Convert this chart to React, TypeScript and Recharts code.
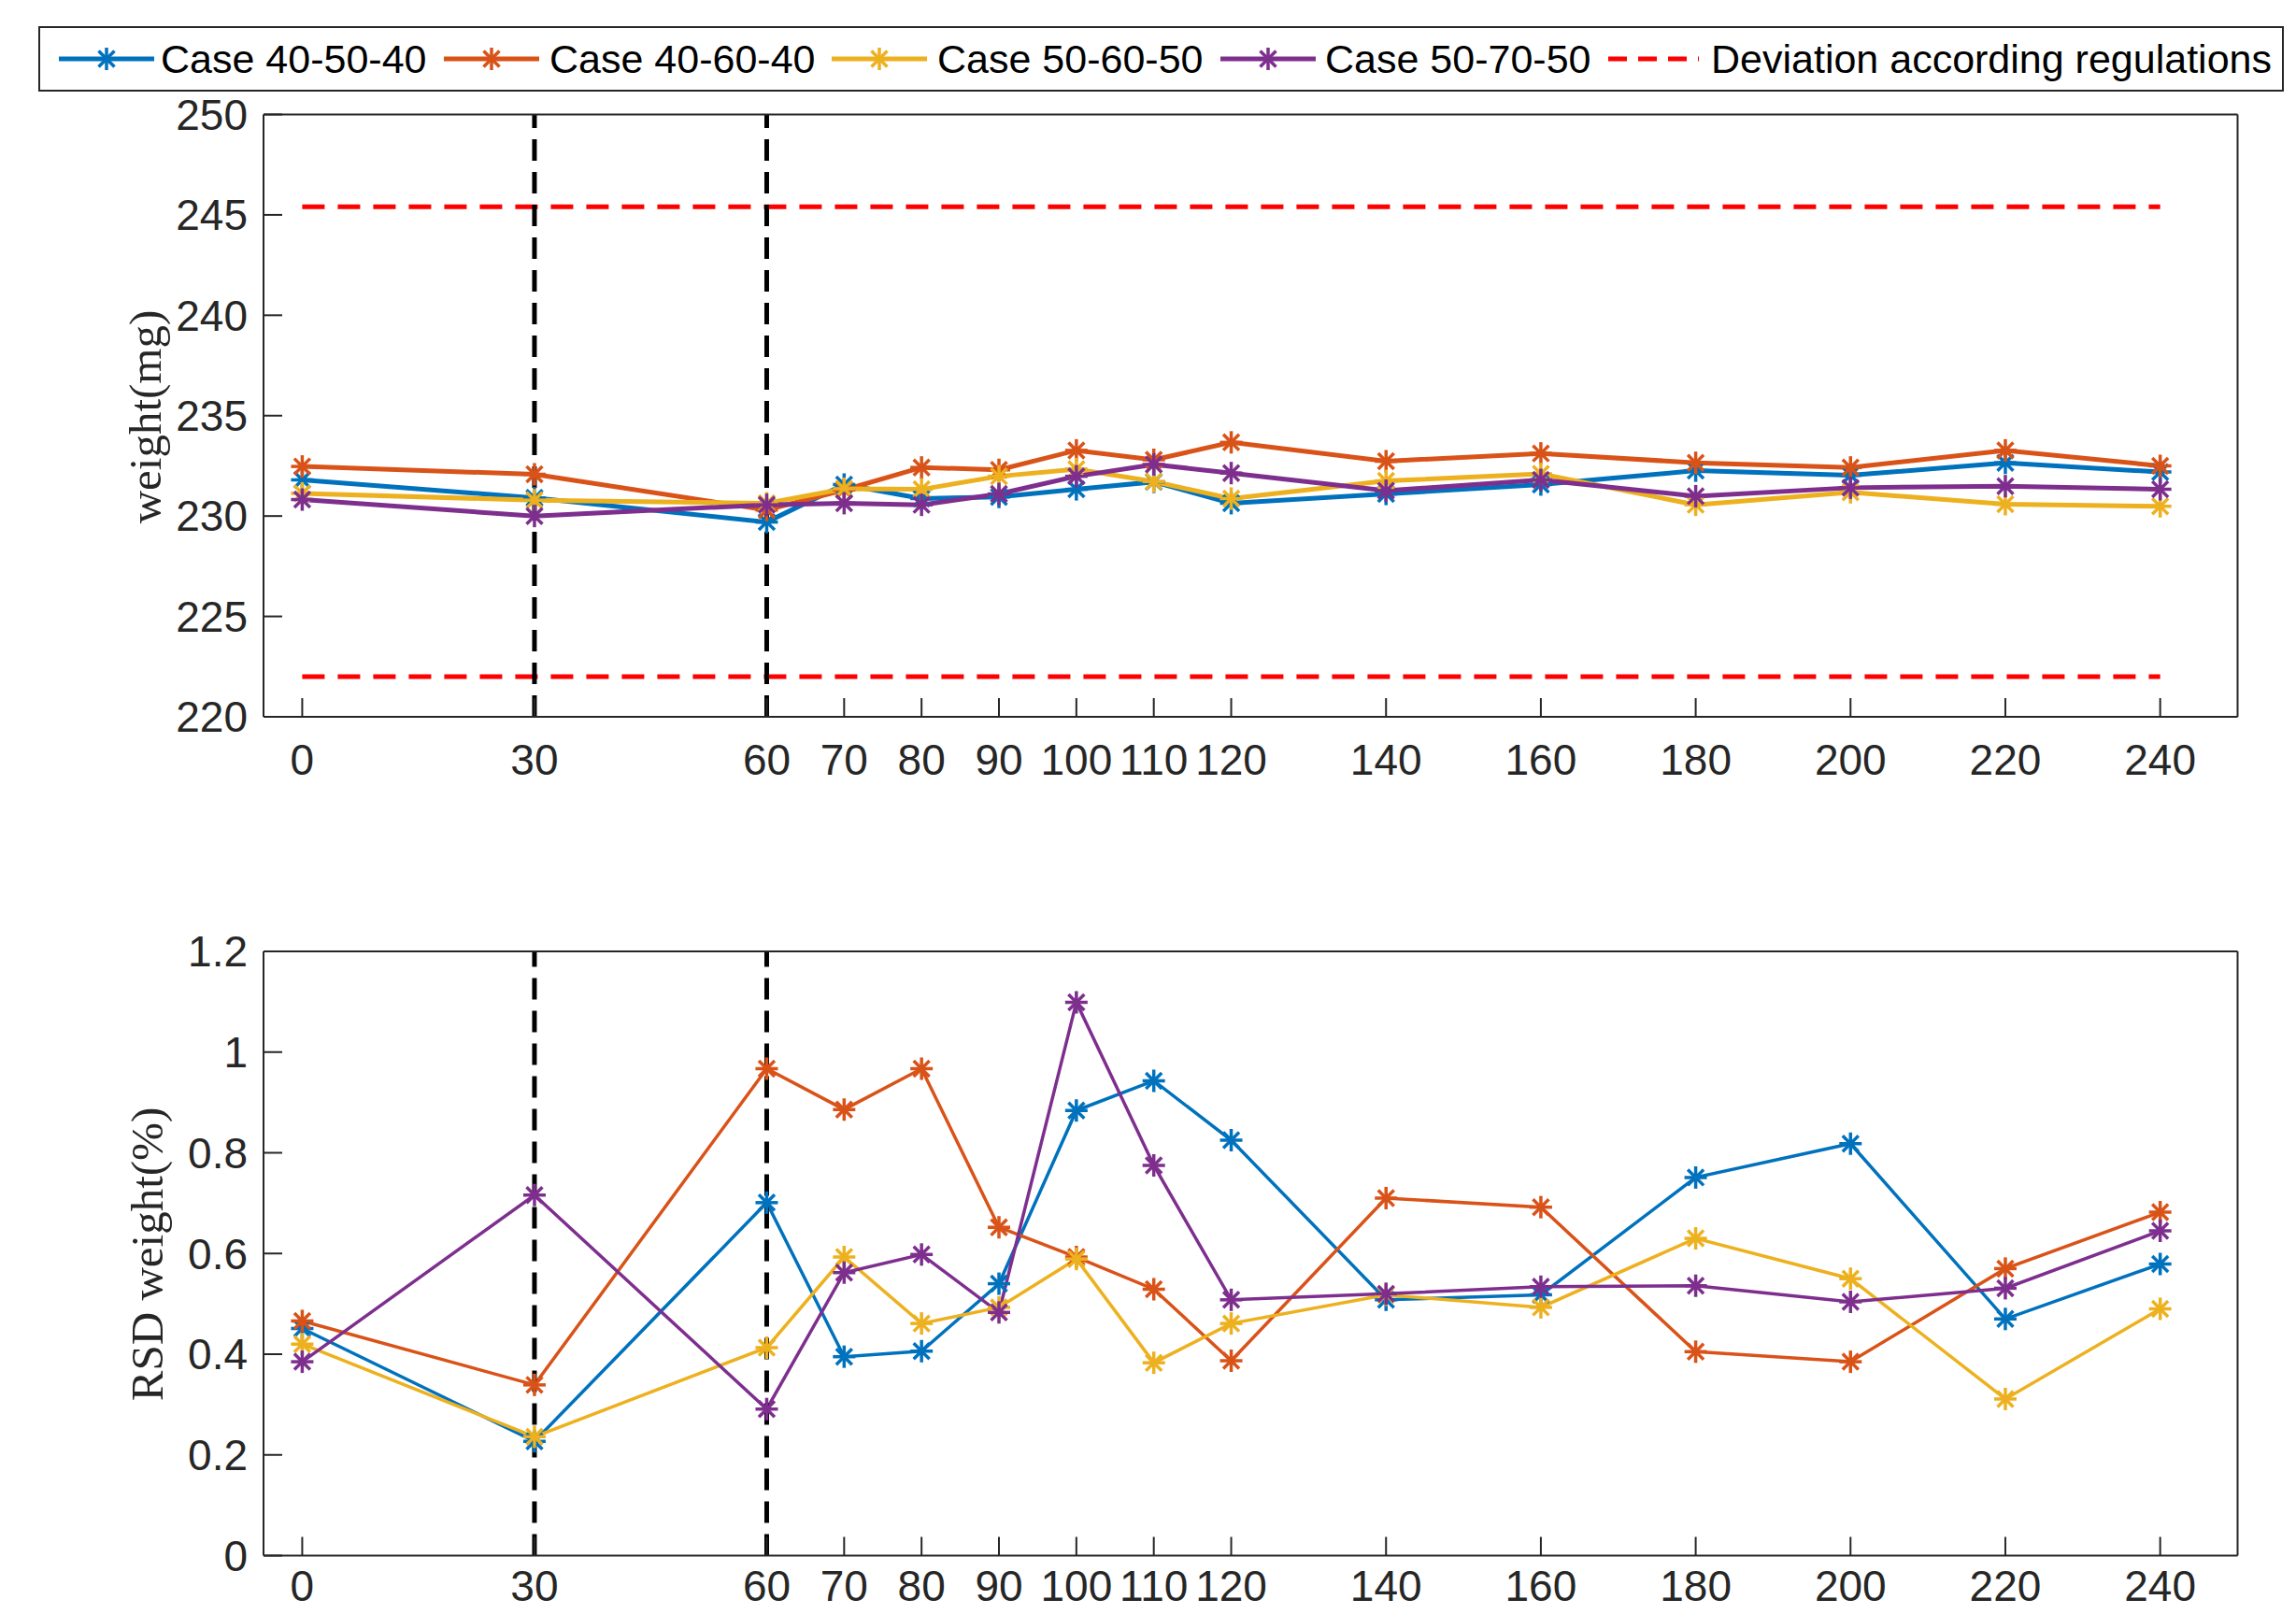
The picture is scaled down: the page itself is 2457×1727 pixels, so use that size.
import { Line, LineChart, ReferenceLine, XAxis, YAxis } from 'recharts'

// sampling times (min)
const times = [0, 30, 60, 70, 80, 90, 100, 110, 120, 140, 160, 180, 200, 220, 240]

const caseNames = ['Case 40-50-40', 'Case 40-60-40', 'Case 50-60-50', 'Case 50-70-50']
const caseColors = ['#0072BD', '#D95319', '#EDB120', '#7E2F8E']

// mean tablet weight (mg)
const weightCase1 = [231.8, 230.9, 229.7, 231.57, 230.87, 230.95, 231.33, 231.7, 230.64, 231.1, 231.57, 232.26, 232.03, 232.65, 232.19]
const weightCase2 = [232.47, 232.08, 230.3, 231.3, 232.42, 232.3, 233.27, 232.8, 233.67, 232.73, 233.12, 232.65, 232.42, 233.27, 232.5]
const weightCase3 = [231.13, 230.79, 230.64, 231.36, 231.33, 231.98, 232.34, 231.72, 230.87, 231.75, 232.1, 230.56, 231.18, 230.59, 230.48]
const weightCase4 = [230.82, 230.0, 230.56, 230.64, 230.56, 231.1, 231.98, 232.57, 232.14, 231.26, 231.8, 230.99, 231.41, 231.49, 231.33]

// RSD of weight (%)
const rsdCase1 = [0.451, 0.227, 0.701, 0.395, 0.406, 0.54, 0.884, 0.943, 0.825, 0.508, 0.518, 0.751, 0.818, 0.47, 0.579]
const rsdCase2 = [0.466, 0.339, 0.967, 0.886, 0.967, 0.652, 0.593, 0.529, 0.387, 0.71, 0.692, 0.405, 0.385, 0.57, 0.682]
const rsdCase3 = [0.42, 0.236, 0.413, 0.593, 0.461, 0.493, 0.589, 0.383, 0.461, 0.518, 0.493, 0.63, 0.55, 0.311, 0.49]
const rsdCase4 = [0.385, 0.716, 0.291, 0.562, 0.598, 0.483, 1.099, 0.775, 0.508, 0.52, 0.534, 0.536, 0.504, 0.531, 0.645]

const weightTicks = [220, 225, 230, 235, 240, 245, 250]
const rsdTicks = [0, 0.2, 0.4, 0.6, 0.8, 1, 1.2]
const upperLimit = 245.4
const lowerLimit = 222.0
const phaseMarks = [30, 60]

const buildRows = (series: number[][]) =>
  times.map((t, i) => ({ t, c0: series[0][i], c1: series[1][i], c2: series[2][i], c3: series[3][i] }))

const weightRows = buildRows([weightCase1, weightCase2, weightCase3, weightCase4])
const rsdRows = buildRows([rsdCase1, rsdCase2, rsdCase3, rsdCase4])

const W = 2457
const AXIS = '#262626'
const SANS = '"Liberation Sans", Arial, Helvetica, sans-serif'
const SERIF = '"Liberation Serif", "DejaVu Serif", serif'
const PLOT_LEFT = 282
const PLOT_RIGHT = 2394.5

function Star({ cx, cy, color, r = 12, w = 3.5 }: { cx?: number; cy?: number; color: string; r?: number; w?: number }) {
  if (cx == null || cy == null) return null
  const d = r * 0.7071
  return (
    <g stroke={color} strokeWidth={w}>
      <line x1={cx - r} y1={cy} x2={cx + r} y2={cy} />
      <line x1={cx} y1={cy - r} x2={cx} y2={cy + r} />
      <line x1={cx - d} y1={cy - d} x2={cx + d} y2={cy + d} />
      <line x1={cx - d} y1={cy + d} x2={cx + d} y2={cy - d} />
    </g>
  )
}

type PanelProps = {
  rows: Record<string, number>[]
  domain: [number, number]
  ticks: number[]
  plotTop: number
  plotBottom: number
  lineWidth: number
  labelGap: number
  limits?: number[]
}

function Panel({ rows, domain, ticks, plotTop, plotBottom, lineWidth, labelGap, limits = [] }: PanelProps) {
  const axisLine = { stroke: AXIS, strokeWidth: 2 }
  const tickStyle = { fill: AXIS, fontSize: 46, fontFamily: SANS }
  return (
    <LineChart
      width={W}
      height={plotBottom + 90}
      data={rows}
      margin={{ top: plotTop - 1, right: W - PLOT_RIGHT - 1, bottom: 0, left: 0 }}
    >
      <XAxis
        dataKey="t"
        type="number"
        domain={[-5, 250]}
        allowDataOverflow
        ticks={times}
        interval={0}
        height={90}
        tickSize={-20}
        tickMargin={labelGap}
        axisLine={axisLine}
        tickLine={axisLine}
        tick={tickStyle}
      />
      <XAxis
        xAxisId="top"
        orientation="top"
        type="number"
        domain={[-5, 250]}
        allowDataOverflow
        ticks={times}
        interval={0}
        height={1}
        tickSize={-20}
        axisLine={axisLine}
        tickLine={axisLine}
        tick={false}
      />
      <YAxis
        type="number"
        domain={domain}
        allowDataOverflow
        ticks={ticks}
        interval={0}
        width={PLOT_LEFT}
        tickSize={-20}
        tickMargin={37}
        axisLine={axisLine}
        tickLine={axisLine}
        tick={tickStyle}
      />
      <YAxis
        yAxisId="right"
        orientation="right"
        type="number"
        domain={domain}
        allowDataOverflow
        ticks={ticks}
        interval={0}
        width={1}
        tickSize={-20}
        axisLine={axisLine}
        tickLine={axisLine}
        tick={false}
      />
      {caseNames.map((name, i) => (
        <Line
          key={name}
          name={name}
          dataKey={`c${i}`}
          type="linear"
          stroke={caseColors[i]}
          strokeWidth={lineWidth}
          isAnimationActive={false}
          dot={(p: any) => <Star key={`${name}-${p.index}`} cx={p.cx} cy={p.cy} color={caseColors[i]} />}
          activeDot={false}
        />
      ))}
      {limits.map((y) => (
        <ReferenceLine
          key={y}
          segment={[
            { x: 0, y },
            { x: 240, y },
          ]}
          stroke="#FF0000"
          strokeWidth={5}
          strokeDasharray="24 14"
        />
      ))}
      {phaseMarks.map((x) => (
        <ReferenceLine key={x} x={x} stroke="#000" strokeWidth={5} strokeDasharray="23 12" />
      ))}
    </LineChart>
  )
}

const legendItems = [
  { lineX: 63, textX: 172 },
  { lineX: 475, textX: 588 },
  { lineX: 890, textX: 1003 },
  { lineX: 1306, textX: 1418 },
]

function Overlay() {
  const ly = 63
  return (
    <svg width={W} height={1727} style={{ position: 'absolute', left: 0, top: 0, pointerEvents: 'none' }}>
      <rect x={42} y={29} width={2401} height={68} fill="#fff" stroke={AXIS} strokeWidth={2} />
      {legendItems.map((it, i) => (
        <g key={caseNames[i]}>
          <line x1={it.lineX} y1={ly} x2={it.lineX + 102} y2={ly} stroke={caseColors[i]} strokeWidth={5} />
          <Star cx={it.lineX + 51} cy={ly} color={caseColors[i]} />
          <text x={it.textX} y={ly} dominantBaseline="central" fontFamily={SANS} fontSize={43} fill="#000">
            {caseNames[i]}
          </text>
        </g>
      ))}
      <line x1={1721} y1={ly} x2={1818} y2={ly} stroke="#FF0000" strokeWidth={5} strokeDasharray="20 12" />
      <text x={1831} y={ly} dominantBaseline="central" fontFamily={SANS} fontSize={43} fill="#000">
        Deviation according regulations
      </text>
      <text
        x={155}
        y={446}
        transform="rotate(-90 155 446)"
        textAnchor="middle"
        dominantBaseline="central"
        fontFamily={SERIF}
        fontSize={49}
        fill={AXIS}
      >
        weight(mg)
      </text>
      <text
        x={157}
        y={1342}
        transform="rotate(-90 157 1342)"
        textAnchor="middle"
        dominantBaseline="central"
        fontFamily={SERIF}
        fontSize={49}
        fill={AXIS}
      >
        RSD weight(%)
      </text>
    </svg>
  )
}

export default function App() {
  return (
    <div style={{ position: 'absolute', left: 0, top: 0, width: W, height: 1727, overflow: 'hidden', background: '#fff' }}>
      <div style={{ position: 'absolute', left: 0, top: 0 }}>
        <Panel rows={weightRows} domain={[220, 250]} ticks={weightTicks} plotTop={122.5} plotBottom={767} lineWidth={5} labelGap={49} limits={[upperLimit, lowerLimit]} />
      </div>
      <div style={{ position: 'absolute', left: 0, top: 900 }}>
        <Panel rows={rsdRows} domain={[0, 1.2]} ticks={rsdTicks} plotTop={118} plotBottom={764.5} lineWidth={3.5} labelGap={36} />
      </div>
      <Overlay />
    </div>
  )
}
